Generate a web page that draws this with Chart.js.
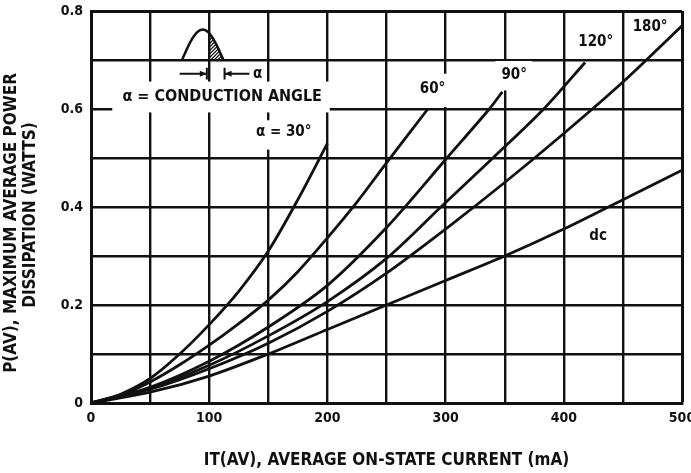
<!DOCTYPE html>
<html lang="en">
<head>
<meta charset="utf-8">
<title>SCR power dissipation vs on-state current</title>
<script src="https://cdn.jsdelivr.net/npm/chart.js@4"></script>
<style>
	html,body{margin:0;padding:0;background:#fff}
	canvas{display:block}
</style>
</head>
<body>
<canvas id="chart" width="691" height="473"></canvas>
<script>
// ---------------- data (mA -> W) ----------------
const cur30 = [0, 25, 50, 75, 100, 125, 150, 175, 200];
const pow30 = [0, 0.018, 0.05, 0.1, 0.16, 0.228, 0.31, 0.415, 0.53];

const cur60 = [0, 25, 50, 75, 100, 125, 150, 175, 200, 225, 250, 285];
const pow60 = [0, 0.016, 0.043, 0.078, 0.118, 0.162, 0.21, 0.268, 0.337, 0.41, 0.49, 0.6];

const cur90 = [0, 50, 100, 150, 200, 250, 300, 337, 348];
const pow90 = [0, 0.032, 0.085, 0.155, 0.24, 0.358, 0.497, 0.6, 0.635];

const cur120 = [0, 50, 100, 150, 200, 250, 296, 340, 383, 418];
const pow120 = [0, 0.03, 0.077, 0.137, 0.207, 0.295, 0.4, 0.5, 0.6, 0.695];

const cur180 = [0, 50, 100, 150, 200, 250, 300, 350, 400, 450, 500];
const pow180 = [0, 0.028, 0.07, 0.122, 0.187, 0.265, 0.355, 0.45, 0.55, 0.655, 0.77];

const curDc = [0, 50, 100, 150, 200, 250, 300, 350, 400, 450, 500];
const powDc = [0, 0.022, 0.055, 0.1, 0.15, 0.2, 0.25, 0.3, 0.355, 0.415, 0.475];

const xTickLabels = ['0', '100', '200', '300', '400', '500'];
const yTickLabels = ['0', '0.2', '0.4', '0.6', '0.8'];
// -------------------------------------------------------------------

const FONT = "'DejaVu Sans Condensed', 'DejaVu Sans', sans-serif";
const INK = '#111';

const pairs = (xs, ys) => xs.map((x, i) => ({ x, y: ys[i] }));
const series = [
	['30°', cur30, pow30],
	['60°', cur60, pow60],
	['90°', cur90, pow90],
	['120°', cur120, pow120],
	['180°', cur180, pow180],
	['dc', curDc, powDc],
];

// curve labels / notes, in data units (x mA, y W); box = white patch behind
const notes = [
	{ text: '60°', x: 289, y: 0.64, size: 15, box: [275, 306, 0.604, 0.672] },
	{ text: '90°', x: 358, y: 0.67, size: 15, box: [342, 373, 0.638, 0.698] },
	{ text: '120°', x: 427, y: 0.737, size: 15 },
	{ text: '180°', x: 473, y: 0.768, size: 15 },
	{ text: 'dc', x: 429, y: 0.341, size: 15 },
	{ text: 'α = 30°', x: 163, y: 0.552, size: 15, box: [134, 193, 0.517, 0.577] },
	{ text: 'α = CONDUCTION ANGLE', x: 111, y: 0.625, size: 16, box: [18, 202, 0.593, 0.656] },
];

const notesPlugin = {
	id: 'notes',
	beforeDatasetsDraw(chart) {
		const { ctx } = chart;
		const xs = chart.scales.x, ys = chart.scales.y;
		const px = (v) => xs.getPixelForValue(v);
		const py = (v) => ys.getPixelForValue(v);
		ctx.save();
		ctx.textAlign = 'center';
		ctx.textBaseline = 'middle';
		for (const n of notes) {
			if (n.box) {
				const [x0, x1, y0, y1] = n.box;
				ctx.fillStyle = '#fff';
				ctx.fillRect(px(x0), py(y1), px(x1) - px(x0), py(y0) - py(y1));
			}
		}
		ctx.fillStyle = INK;
		for (const n of notes) {
			ctx.font = `bold ${n.size}px ${FONT}`;
			ctx.fillText(n.text, px(n.x), py(n.y));
		}

		// little conduction-angle waveform sketch
		const base = 0.7, amp = 0.062, a = 77, b = 112, fire = 100;
		ctx.strokeStyle = INK;
		ctx.lineWidth = 2.5;
		ctx.beginPath();
		for (let i = 0; i <= 40; i++) {
			const t = i / 40;
			const x = px(a + t * (b - a)), y = py(base + amp * Math.sin(Math.PI * t));
			i ? ctx.lineTo(x, y) : ctx.moveTo(x, y);
		}
		ctx.stroke();
		// hatching of the conducting part
		ctx.save();
		ctx.beginPath();
		ctx.moveTo(px(fire), py(base));
		for (let i = 0; i <= 20; i++) {
			const v = fire + (b - fire) * i / 20;
			const t = (v - a) / (b - a);
			ctx.lineTo(px(v), py(base + amp * Math.sin(Math.PI * t)));
		}
		ctx.closePath();
		ctx.clip();
		ctx.lineWidth = 1.2;
		for (let k = -30; k < 40; k += 3.5) {
			ctx.beginPath();
			ctx.moveTo(px(fire) + k, py(base));
			ctx.lineTo(px(fire) + k + 30, py(base) - 30);
			ctx.stroke();
		}
		ctx.restore();

		// arrows marking the angle
		const ya = py(0.672);
		ctx.lineWidth = 2;
		ctx.beginPath();
		ctx.moveTo(px(75), ya); ctx.lineTo(px(97), ya);
		ctx.moveTo(px(98), py(0.684)); ctx.lineTo(px(98), py(0.66));
		ctx.moveTo(px(113), py(0.684)); ctx.lineTo(px(113), py(0.66));
		ctx.moveTo(px(113), ya); ctx.lineTo(px(134), ya);
		ctx.stroke();
		ctx.beginPath();
		ctx.moveTo(px(98), ya); ctx.lineTo(px(98) - 7, ya - 3); ctx.lineTo(px(98) - 7, ya + 3);
		ctx.moveTo(px(113), ya); ctx.lineTo(px(113) + 7, ya - 3); ctx.lineTo(px(113) + 7, ya + 3);
		ctx.fill();
		ctx.font = `bold 15px ${FONT}`;
		ctx.fillText('α', px(141), ya);
		ctx.restore();
	},
};

const edgeWidth = (max) => (c) => (c.tick && Math.abs(c.tick.value - max) < 1e-6 ? 3 : 2.4);

new Chart(document.getElementById('chart'), {
	type: 'scatter',
	data: {
		datasets: series.map(([label, xs, ys]) => ({
			label,
			data: pairs(xs, ys),
			showLine: true,
			borderColor: INK,
			borderWidth: 2.8,
			pointRadius: 0,
			tension: 0.3,
		})),
	},
	options: {
		responsive: false,
		animation: false,
		layout: { padding: { top: 11, right: 9, bottom: 0, left: 0 } },
		plugins: { legend: { display: false }, tooltip: { enabled: false } },
		scales: {
			x: {
				type: 'linear',
				min: 0,
				max: 500,
				grid: { color: INK, lineWidth: edgeWidth(500), drawTicks: false },
				border: { color: INK, width: 3 },
				ticks: {
					stepSize: 50,
					autoSkip: false,
					maxRotation: 0,
					padding: 7,
					color: INK,
					font: { family: FONT, size: 14, weight: 'bold' },
					callback: (v) => (xTickLabels.includes(String(v)) ? String(v) : ''),
				},
				title: {
					display: true,
					text: 'IT(AV), AVERAGE ON-STATE CURRENT (mA)',
					color: INK,
					font: { family: FONT, size: 17, weight: 'bold' },
					padding: { top: 0, bottom: 2 },
				},
				afterFit(scale) {
					scale.height = 70;
					scale.paddingLeft = 0;
					scale.paddingRight = 0;
				},
			},
			y: {
				min: 0,
				max: 0.8,
				grid: { color: INK, lineWidth: edgeWidth(0.8), drawTicks: false },
				border: { color: INK, width: 3 },
				ticks: {
					stepSize: 0.1,
					autoSkip: false,
					padding: 8,
					color: INK,
					font: { family: FONT, size: 14, weight: 'bold' },
					callback: (v) => {
						const s = String(Math.round(v * 10) / 10);
						return yTickLabels.includes(s) ? s : '';
					},
				},
				title: {
					display: true,
					// trailing spaces nudge the rotated lines a bit lower, as in the original
					text: ['P(AV), MAXIMUM AVERAGE POWER      ', 'DISSIPATION (WATTS)   '],
					color: INK,
					font: { family: FONT, size: 17, weight: 'bold', lineHeight: 1.12 },
					padding: { top: 2, bottom: 0 },
				},
				afterFit(scale) {
					scale.width = 91;
					scale.paddingTop = 0;
					scale.paddingBottom = 0;
				},
			},
		},
	},
	plugins: [notesPlugin],
});
</script>
</body>
</html>
